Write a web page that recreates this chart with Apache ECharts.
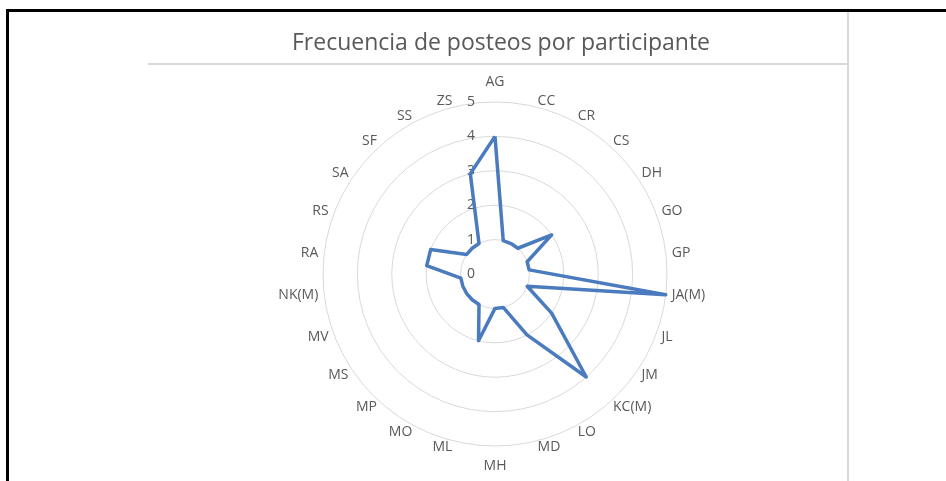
<!DOCTYPE html>
<html>
<head>
<meta charset="utf-8">
<script src="https://cdn.jsdelivr.net/npm/echarts@6/dist/echarts.min.js"></script>
<style>
  html, body { margin: 0; padding: 0; background: #fff; }
  #main { width: 946px; height: 481px; }
</style>
</head>
<body>
<div id="main"></div>
<script>
// participantes (ejes del radar, en sentido horario desde arriba)
const participantes = ["AG", "CC", "CR", "CS", "DH", "GO", "GP", "JA(M)", "JL", "JM", "KC(M)", "LO", "MD",
  "MH", "ML", "MO", "MP", "MS", "MV", "NK(M)", "RA", "RS", "SA", "SF", "SS", "ZS"];
// número de posteos
const posteos = [4, 1, 1, 1, 2, 1, 1, 5, 1, 2, 4, 2, 1,
  1, 2, 1, 1, 1, 1, 1, 2, 2, 1, 1, 1, 3];
const escalaMax = 5;

let chart = echarts.init(document.getElementById("main"));

// ECharts dibuja el radar en sentido antihorario: se invierte el orden (salvo el primero)
const orden = [0];
for (let i = participantes.length - 1; i > 0; i--) orden.push(i);

// solo el primer eje lleva las etiquetas 0..5
const indicadores = orden.map(function (k, i) {
  const ind = { name: participantes[k], min: 0, max: escalaMax };
  if (i === 0) ind.axisLabel = { show: true };
  // los nombres justo arriba / abajo quedan algo más separados
  const ang = (k / participantes.length) * 2 * Math.PI;
  if (Math.abs(Math.cos(ang)) > 0.99) ind.nameGap = 13;
  return ind;
});
const valores = orden.map(function (k) { return posteos[k]; });

chart.setOption({
  animation: false,
  title: {
    text: "Frecuencia de posteos por participante",
    left: 496,
    top: 27,
    textAlign: "center",
    textStyle: { fontFamily: "Open Sans", fontWeight: "normal", fontSize: 23, color: "#595959" }
  },
  // marco recortado del gráfico original
  graphic: [
    { type: "rect", shape: { x: 6, y: 9, width: 960, height: 3 }, style: { fill: "#000" } },
    { type: "rect", shape: { x: 6, y: 9, width: 3, height: 480 }, style: { fill: "#000" } },
    { type: "rect", shape: { x: 847, y: 12, width: 2, height: 470 }, style: { fill: "#d9d9d9" } },
    { type: "rect", shape: { x: 148, y: 63, width: 700, height: 2 }, style: { fill: "#d9d9d9" } }
  ],
  radar: {
    center: [495, 274],
    radius: 172,
    shape: "circle",
    startAngle: 90,
    splitNumber: 5,
    indicator: indicadores,
    axisName: { color: "#595959", fontSize: 14, fontFamily: "Open Sans" },
    nameGap: 6,
    axisLine: { show: false },
    axisTick: { show: false },
    axisLabel: { show: false, color: "#595959", fontSize: 14, fontFamily: "Open Sans", margin: 20 },
    splitLine: { lineStyle: { color: "#d9d9d9", width: 1 } },
    splitArea: { show: false }
  },
  series: [
    {
      name: "Posteos",
      type: "radar",
      symbol: "none",
      lineStyle: { color: "#4a7bbf", width: 3.5 },
      data: [{ value: valores }]
    }
  ]
});
</script>
</body>
</html>
